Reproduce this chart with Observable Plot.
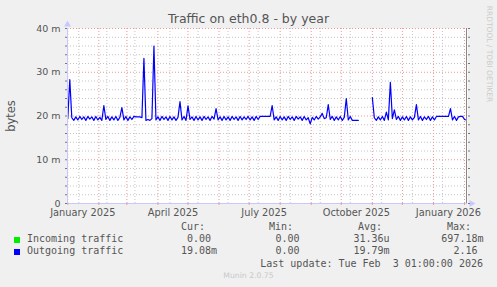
<!DOCTYPE html>
<html><head><meta charset="utf-8">
<script src="https://cdn.jsdelivr.net/npm/d3@7"></script>
<script src="https://cdn.jsdelivr.net/npm/@observablehq/plot@0.6"></script>
<style>
body{margin:0;background:#f0f0f0;}
#wrap{position:relative;width:497px;height:287px;overflow:hidden;background:#f0f0f0;font-family:"DejaVu Sans",sans-serif;color:#555;}
#chart{position:absolute;left:0;top:0;}
.t{position:absolute;white-space:pre;line-height:1;}
.mono{font-family:"DejaVu Sans Mono",monospace;font-size:10px;color:#555;}
</style></head><body>
<div id="wrap"><div id="chart"></div></div>
<script>
// ---- data ----
const startDate = "2025-01-01";   // first sample
const stepDays = 2;               // one sample every two days
const outgoing = [
19.4,28.3,19.6,19.0,19.8,19.1,19.9,19.2,19.8,19.0,
19.9,19.3,19.8,19.0,19.9,19.1,19.7,19.0,22.4,19.2,
19.9,19.0,19.8,19.1,19.9,19.0,19.7,21.9,19.1,19.9,
19.0,19.8,19.2,19.9,19.8,19.8,19.8,19.6,33.2,19.0,
19.2,19.0,19.4,36.0,19.1,19.8,19.0,19.9,19.2,19.8,
19.0,19.9,19.1,19.8,19.0,19.7,23.3,19.1,19.9,19.0,
22.3,19.2,19.8,19.0,19.9,19.1,19.8,19.0,19.9,19.2,
19.8,19.0,19.9,19.3,21.7,19.1,19.8,19.0,19.9,19.1,
19.8,19.0,19.9,19.2,19.8,19.0,19.9,19.1,19.8,19.2,
19.9,19.1,19.8,19.0,19.9,19.2,19.9,19.9,19.9,19.9,
19.9,19.9,22.4,19.1,19.8,19.0,19.9,19.1,19.8,19.0,
19.9,19.2,19.8,19.0,19.9,19.3,19.8,19.0,19.9,19.1,
19.6,18.2,19.7,19.1,19.9,19.3,19.8,20.6,19.4,19.6,
22.6,19.2,19.9,19.0,19.8,19.1,19.9,19.0,19.7,24.0,
19.1,19.9,19.0,19.0,19.0,19.0,null,null,null,null,
null,null,24.2,19.6,19.0,19.8,19.1,19.9,19.0,20.9,
19.1,27.7,19.4,21.4,19.2,19.9,19.0,19.8,19.1,19.9,
19.0,19.8,19.1,19.7,22.6,19.1,19.9,19.0,19.8,19.2,
19.9,19.0,19.8,19.1,19.9,19.9,19.9,19.9,19.9,19.9,
19.9,21.7,19.1,19.9,19.0,19.8,19.9,19.9,19.2,19.08
];
const incomingDates = ["2025-01-01","2026-02-03"];
const incoming = [0, 0];

const yMajor = [0,10,20,30,40];
const yMinor = [2,4,6,8,12,14,16,18,22,24,26,28,32,34,36,38];
const monthStarts = ["2025-01-01","2025-02-01","2025-03-01","2025-04-01","2025-05-01","2025-06-01","2025-07-01",
  "2025-08-01","2025-09-01","2025-10-01","2025-11-01","2025-12-01","2026-01-01","2026-02-01"];
const minorDates = ["2025-01-12","2025-02-09","2025-03-09","2025-04-13","2025-05-11","2025-06-10","2025-07-10",
  "2025-08-11","2025-09-10","2025-10-10","2025-11-10","2025-12-11","2026-01-10"];
const labelMonths = ["2025-01-01","2025-04-01","2025-07-01","2025-10-01","2026-01-01"];
const labelTexts = ["January 2025","April 2025","July 2025","October 2025","January 2026"];
const domainStart = "2024-12-31T17:00:00Z", domainEnd = "2026-02-04T00:00:00Z", nowTime = "2026-02-03T00:00:00Z";

const legendNames = ["Incoming traffic","Outgoing traffic"];
const legendColors = ["#00ee00","#0000ff"];
const legendHeads = ["Cur:","Min:","Avg:","Max:"];
const curVals = ["0.00","19.08m"];
const minVals = ["0.00","0.00"];
const avgVals = ["31.36u","19.79m"];
const maxVals = ["697.18m","2.16"];
const lastUpdate = "Last update: Tue Feb  3 01:00:00 2026";
const titleText = "Traffic on eth0.8 - by year";
const yLabel = "bytes";
const footer = "Munin 2.0.75";
const sideText = "RRDTOOL / TOBI OETIKER";

// ---- build ----
const day = 864e5;
const D = s => new Date(s.length === 10 ? s + "T00:00:00Z" : s);
const t0 = D(startDate).getTime();
const outSeries = outgoing.map((v, i) => ({date: new Date(t0 + i * stepDays * day), value: v}));
const inSeries = incoming.map((v, i) => ({date: D(incomingDates[i]), value: v}));
const months = monthStarts.map(D);
const minors = minorDates.map(D);
const labelPos = labelMonths.map(s => new Date(D(s).getTime() + 15 * day));
const x0 = D(domainStart), x1 = D(domainEnd);
const axisCol = "#c8c8ff";
const redGrid = "#e89a9a";
const grayGrid = "#c4c4c4";

const plot = Plot.plot({
  width: 497, height: 222,
  marginTop: 28, marginBottom: 19, marginLeft: 67, marginRight: 30,
  x: {type: "utc", domain: [x0, x1]},
  y: {domain: [0, 40]},
  style: {background: "transparent", fontFamily: "DejaVu Sans, sans-serif", color: "#555", overflow: "visible"},
  marks: [
    Plot.frame({fill: "white", stroke: null}),
    Plot.ruleY(yMinor, {stroke: grayGrid, strokeDasharray: "1,2"}),
    Plot.ruleX(minors, {stroke: grayGrid, strokeDasharray: "1,2"}),
    Plot.ruleY(yMajor, {stroke: redGrid, strokeDasharray: "1,2"}),
    Plot.ruleX(months, {stroke: redGrid, strokeDasharray: "1,2"}),
    Plot.line(inSeries, {x: "date", y: "value", stroke: "#00ee00", strokeWidth: 1}),
    Plot.line(outSeries, {x: "date", y: "value", stroke: "#0000ff", strokeWidth: 1.2}),
    Plot.ruleX([D(nowTime)], {stroke: "#888", strokeWidth: 1}),
    Plot.ruleY([0], {stroke: axisCol, strokeWidth: 1, x1: x0, x2: x1}),
    Plot.ruleX([x0], {stroke: axisCol, strokeWidth: 1, y1: 0, y2: 40}),
    Plot.dot([40], {x: () => x0, y: d => d, symbol: "triangle", r: 2.6, fill: axisCol, stroke: null, dy: -4}),
    Plot.dot([0], {x: () => x1, y: d => d, symbol: "triangle", r: 2.6, fill: axisCol, stroke: null, rotate: 90, dx: 4}),
    Plot.axisX({ticks: months, tickSize: 2, tickFormat: () => "", stroke: redGrid, label: null}),
    Plot.axisY({ticks: [...yMajor, ...yMinor], tickSize: 2, tickFormat: () => "", stroke: "#777", label: null}),
    Plot.axisY({anchor: "right", ticks: [...yMajor, ...yMinor], tickSize: 2, tickFormat: () => "", stroke: "#777", label: null}),
    Plot.axisY({ticks: yMajor, tickSize: 0, tickPadding: 7, fontSize: 9.5, fill: "#555",
      tickFormat: d => d === 0 ? "0" : d + " m", label: null}),
    Plot.axisX({ticks: labelPos, tickSize: 0, tickPadding: 6, fontSize: 9.8, fill: "#555",
      tickFormat: (d, i) => labelTexts[i], label: null})
  ]
});
document.getElementById("chart").appendChild(plot);

const wrap = document.getElementById("wrap");
function addText(txt, css, cls) {
  const el = document.createElement("div");
  el.className = "t " + (cls || "");
  el.textContent = txt;
  el.style.cssText += css;
  wrap.appendChild(el);
  return el;
}
addText(titleText, "left:0;width:497px;text-align:center;top:12.5px;font-size:12.5px;color:#555;");
addText(yLabel, "left:12px;top:116px;font-size:11.5px;color:#555;transform:translate(-50%,-50%) rotate(-90deg);");
addText(sideText, "left:489px;top:54px;font-size:7.5px;color:#ccc;transform:translate(-50%,-50%) rotate(90deg);");
addText(footer, "left:0;width:497px;text-align:center;top:272px;font-size:7.7px;color:#c8c8c8;");

const headLeft = [181, 269, 358, 447];
legendHeads.forEach((h, i) => addText(h, `left:${headLeft[i]}px;top:221.5px;`, "mono"));
const colEnds = [217, 305.5, 389.5, 483.5];
const cols = [curVals, minVals, avgVals, maxVals];
legendNames.forEach((n, r) => {
  const top = 233.8 + r * 12.4;
  const sq = document.createElement("div");
  sq.style.cssText = `position:absolute;left:14px;top:${top + 3}px;width:6px;height:6px;background:${legendColors[r]};`;
  wrap.appendChild(sq);
  addText(n, `left:27px;top:${top}px;`, "mono");
  cols.forEach((c, k) => {
    const v = /[0-9]$/.test(c[r]) ? c[r] + " " : c[r];
    addText(v, `right:${497 - colEnds[k]}px;top:${top}px;text-align:right;`, "mono");
  });
});
addText(lastUpdate, "right:14px;top:258.6px;", "mono");
</script>
</body></html>
